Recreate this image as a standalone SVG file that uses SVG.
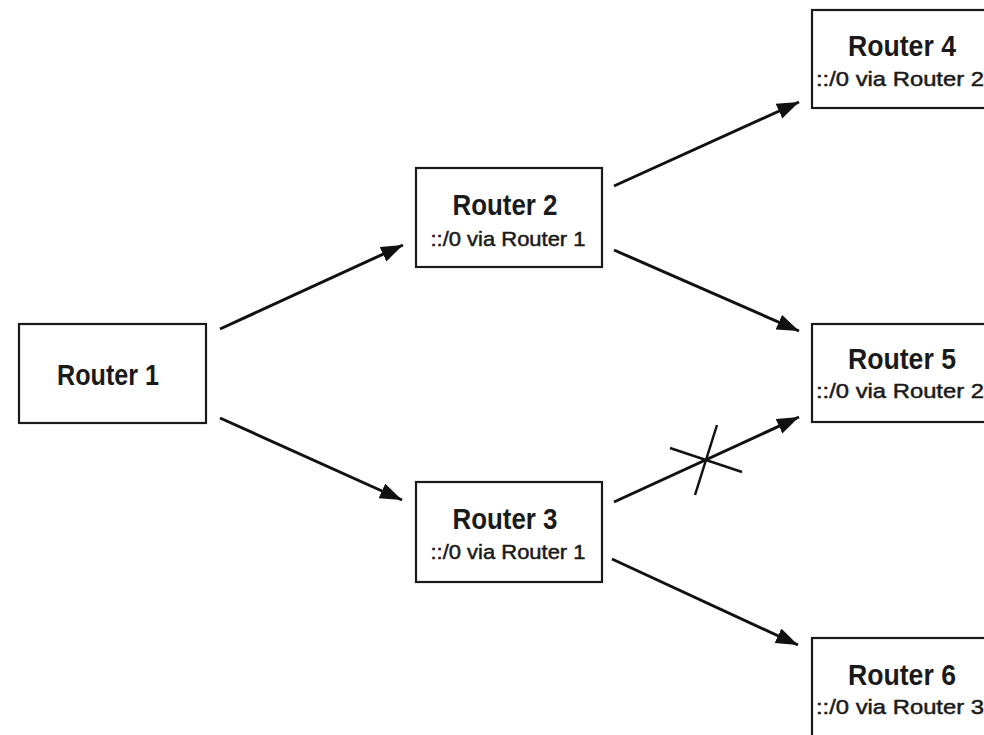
<svg xmlns="http://www.w3.org/2000/svg" width="984" height="735" viewBox="0 0 984 735">
<defs>
<style>
.box{fill:#fff;stroke:#1a1a1a;stroke-width:2.2}
.t{font-family:"Liberation Sans",Arial,sans-serif;font-weight:bold;fill:#1a1a1a;text-anchor:middle}
.title{font-size:30px}
.sub{font-size:21px;font-weight:normal}
.sub{stroke:#1a1a1a;stroke-width:0.5}
.edge{stroke:#111;stroke-width:3;fill:none}
.cross{stroke:#111;stroke-width:2.5;fill:none}
</style>
<marker id="arr" markerUnits="userSpaceOnUse" markerWidth="24" markerHeight="18" refX="22" refY="8" orient="auto">
<path d="M0,0 L22,8 L0,16 z" fill="#111"/>
</marker>
</defs>
<rect width="984" height="735" fill="#fff"/>
<g id="connectors">
<line class="edge" x1="220" y1="329" x2="403" y2="245" marker-end="url(#arr)"/>
<line class="edge" x1="220" y1="418" x2="402" y2="500" marker-end="url(#arr)"/>
<line class="edge" x1="614" y1="186" x2="799" y2="102" marker-end="url(#arr)"/>
<line class="edge" x1="614" y1="250" x2="799" y2="331" marker-end="url(#arr)"/>
<line class="edge" x1="614" y1="502" x2="799" y2="417" marker-end="url(#arr)"/>
<line class="edge" x1="612" y1="559" x2="798" y2="645" marker-end="url(#arr)"/>
<line class="cross" x1="670" y1="448" x2="742" y2="472"/>
<line class="cross" x1="717" y1="425" x2="695" y2="495"/>
</g>
<g id="router1">
<rect class="box" x="19" y="324" width="187" height="99"/>
<text class="t title" x="108" y="385" textLength="102" lengthAdjust="spacingAndGlyphs">Router 1</text>
</g>
<g id="router2">
<rect class="box" x="416" y="168" width="186" height="99"/>
<text class="t title" x="505" y="215" textLength="105" lengthAdjust="spacingAndGlyphs">Router 2</text>
<text class="t sub" x="508" y="246" textLength="155" lengthAdjust="spacingAndGlyphs">::/0 via Router 1</text>
</g>
<g id="router3">
<rect class="box" x="416" y="482" width="186" height="100"/>
<text class="t title" x="505" y="529" textLength="105" lengthAdjust="spacingAndGlyphs">Router 3</text>
<text class="t sub" x="508" y="559" textLength="155" lengthAdjust="spacingAndGlyphs">::/0 via Router 1</text>
</g>
<g id="router4">
<rect class="box" x="812" y="10" width="200" height="98"/>
<text class="t title" x="902" y="56" textLength="108" lengthAdjust="spacingAndGlyphs">Router 4</text>
<text class="t sub" x="900" y="86" textLength="168" lengthAdjust="spacingAndGlyphs">::/0 via Router 2</text>
</g>
<g id="router5">
<rect class="box" x="812" y="324" width="200" height="98"/>
<text class="t title" x="902" y="369" textLength="108" lengthAdjust="spacingAndGlyphs">Router 5</text>
<text class="t sub" x="900" y="398" textLength="168" lengthAdjust="spacingAndGlyphs">::/0 via Router 2</text>
</g>
<g id="router6">
<rect class="box" x="812" y="638" width="200" height="110"/>
<text class="t title" x="902" y="685" textLength="108" lengthAdjust="spacingAndGlyphs">Router 6</text>
<text class="t sub" x="900" y="714" textLength="168" lengthAdjust="spacingAndGlyphs">::/0 via Router 3</text>
</g>
</svg>
